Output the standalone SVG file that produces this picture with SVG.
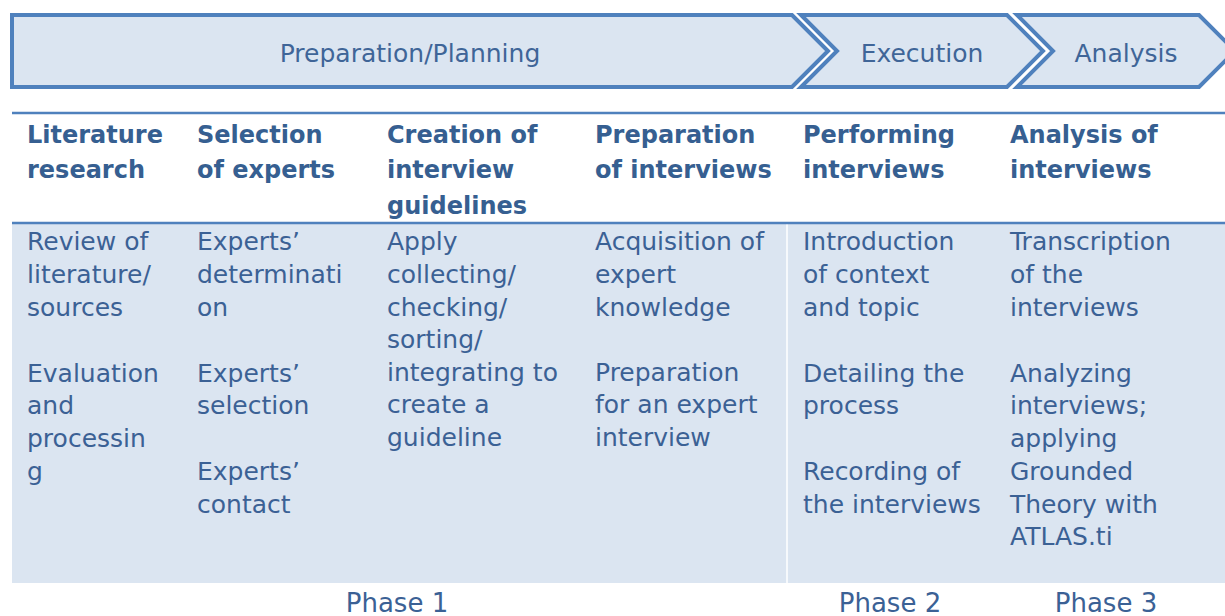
<svg xmlns="http://www.w3.org/2000/svg" width="1225" height="616" viewBox="0 0 1225 616">
<style>
.chev{fill:#dbe5f1;stroke:#4f81bd;stroke-width:4;stroke-linejoin:miter}
.top{font-family:"DejaVu Sans",sans-serif;font-size:25px;fill:#3f6598;text-anchor:middle}
.hd{font-family:"DejaVu Sans",sans-serif;font-size:24px;font-weight:bold;fill:#365f91}
.bd{font-family:"DejaVu Sans",sans-serif;font-size:25px;fill:#3b6195}
.ph{font-family:"DejaVu Sans",sans-serif;font-size:26px;fill:#3b6195;text-anchor:middle}
.rule{stroke:#4f81bd;stroke-width:2.5}
</style>
<rect width="1225" height="616" fill="#ffffff"/>
<g id="stage-preparation">
<path class="chev" d="M12,15 H792 L828,51 L792,87 H12 Z"/>
<text class="top" x="410" y="62">Preparation/Planning</text>
</g>
<g id="stage-execution">
<path class="chev" d="M801,15 H1007 L1043,51 L1007,87 H801 L837,51 Z"/>
<text class="top" x="922" y="62">Execution</text>
</g>
<g id="stage-analysis">
<path class="chev" d="M1017,15 H1199 L1235,51 L1199,87 H1017 L1053,51 Z"/>
<text class="top" x="1126" y="62">Analysis</text>
</g>
<g id="table">
<rect x="12" y="223" width="1213" height="360" fill="#dbe5f1"/>
<line x1="787" y1="224" x2="787" y2="583" stroke="#ffffff" stroke-width="1.5"/>
<line class="rule" x1="12" y1="113" x2="1225" y2="113"/>
<line class="rule" x1="12" y1="223" x2="1225" y2="223"/>
</g>
<g id="col-literature">
<text class="hd" x="27"><tspan x="27" y="143">Literature</tspan><tspan x="27" y="178">research</tspan></text>
<text class="bd"><tspan x="27" y="250">Review of</tspan><tspan x="27" y="283">literature/</tspan><tspan x="27" y="316">sources</tspan><tspan x="27" y="382">Evaluation</tspan><tspan x="27" y="414">and</tspan><tspan x="27" y="447">processin</tspan><tspan x="27" y="480">g</tspan></text>
</g>
<g id="col-selection">
<text class="hd"><tspan x="197" y="143">Selection</tspan><tspan x="197" y="178">of experts</tspan></text>
<text class="bd"><tspan x="197" y="250">Experts’</tspan><tspan x="197" y="283">determinati</tspan><tspan x="197" y="316">on</tspan><tspan x="197" y="382">Experts’</tspan><tspan x="197" y="414">selection</tspan><tspan x="197" y="480">Experts’</tspan><tspan x="197" y="513">contact</tspan></text>
</g>
<g id="col-creation">
<text class="hd"><tspan x="387" y="143">Creation of</tspan><tspan x="387" y="178">interview</tspan><tspan x="387" y="214">guidelines</tspan></text>
<text class="bd"><tspan x="387" y="250">Apply</tspan><tspan x="387" y="283">collecting/</tspan><tspan x="387" y="316">checking/</tspan><tspan x="387" y="348">sorting/</tspan><tspan x="387" y="381">integrating to</tspan><tspan x="387" y="413">create a</tspan><tspan x="387" y="446">guideline</tspan></text>
</g>
<g id="col-preparation">
<text class="hd"><tspan x="595" y="143">Preparation</tspan><tspan x="595" y="178">of interviews</tspan></text>
<text class="bd"><tspan x="595" y="250">Acquisition of</tspan><tspan x="595" y="283">expert</tspan><tspan x="595" y="316">knowledge</tspan><tspan x="595" y="381">Preparation</tspan><tspan x="595" y="413">for an expert</tspan><tspan x="595" y="446">interview</tspan></text>
</g>
<g id="col-performing">
<text class="hd"><tspan x="803" y="143">Performing</tspan><tspan x="803" y="178">interviews</tspan></text>
<text class="bd"><tspan x="803" y="250">Introduction</tspan><tspan x="803" y="283">of context</tspan><tspan x="803" y="316">and topic</tspan><tspan x="803" y="382">Detailing the</tspan><tspan x="803" y="414">process</tspan><tspan x="803" y="480">Recording of</tspan><tspan x="803" y="513">the interviews</tspan></text>
</g>
<g id="col-analysis">
<text class="hd"><tspan x="1010" y="143">Analysis of</tspan><tspan x="1010" y="178">interviews</tspan></text>
<text class="bd"><tspan x="1010" y="250">Transcription</tspan><tspan x="1010" y="283">of the</tspan><tspan x="1010" y="316">interviews</tspan><tspan x="1010" y="382">Analyzing</tspan><tspan x="1010" y="414">interviews;</tspan><tspan x="1010" y="447">applying</tspan><tspan x="1010" y="480">Grounded</tspan><tspan x="1010" y="513">Theory with</tspan><tspan x="1010" y="545">ATLAS.ti</tspan></text>
</g>
<g id="phases">
<text class="ph" x="397" y="612">Phase 1</text>
<text class="ph" x="890" y="612">Phase 2</text>
<text class="ph" x="1106" y="612">Phase 3</text>
</g>
</svg>
